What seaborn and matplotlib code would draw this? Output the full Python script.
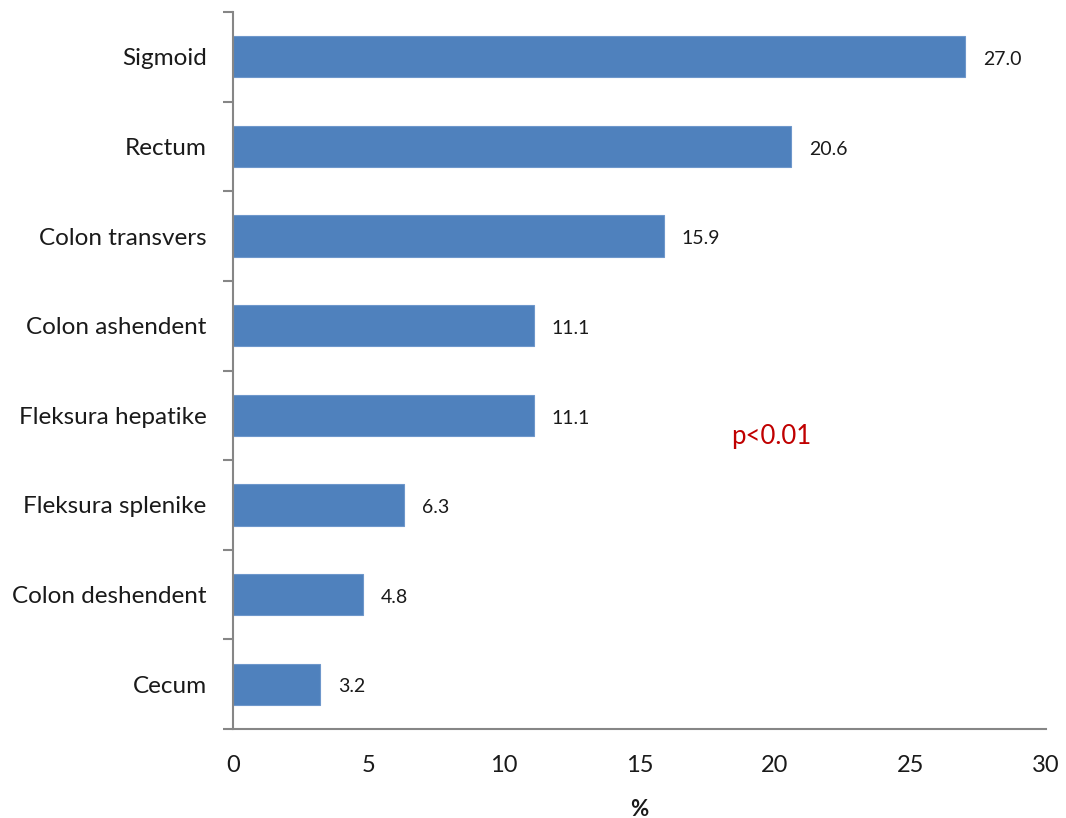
import matplotlib
matplotlib.use("Agg")
import matplotlib.pyplot as plt
from matplotlib.ticker import FixedLocator
import seaborn as sns
import pandas as pd

sites = ["Sigmoid", "Rectum", "Colon transvers", "Colon ashendent",
         "Fleksura hepatike", "Fleksura splenike", "Colon deshendent", "Cecum"]
percent = [27.0, 20.6, 15.9, 11.1, 11.1, 6.3, 4.8, 3.2]
x_ticks = [0, 5, 10, 15, 20, 25, 30]
p_note = "p<0.01"

sns.set_theme(style="white")
plt.rcParams["font.family"] = ["Lato", "DejaVu Sans"]

df = pd.DataFrame({"site": sites, "percent": percent})

fig = plt.figure(figsize=(10.66, 8.18), dpi=100)
ax = fig.add_axes([233 / 1066, 1 - 729 / 818, (1046 - 233) / 1066, (729 - 12) / 818])

sns.barplot(data=df, x="percent", y="site", orient="h", color="#4F81BD",
            saturation=1, width=0.46, edgecolor="#6E97CB", linewidth=0.8, ax=ax)

grey = "#868686"
ax.set_xlim(0, 30)
ax.set_ylim(len(sites) - 0.5, -0.5)
ax.xaxis.set_major_locator(FixedLocator(x_ticks))
ax.set_xticklabels([str(t) for t in x_ticks], fontsize=17, color="#1a1a1a")
ax.tick_params(axis="x", which="major", direction="in", length=6, width=1.5,
               color=grey, pad=19)
ax.yaxis.set_minor_locator(FixedLocator([i - 0.5 for i in range(len(sites) + 1)]))
ax.tick_params(axis="y", which="major", length=0, pad=19, labelsize=17.5, labelcolor="#1a1a1a")
ax.tick_params(axis="y", which="minor", direction="out", length=7, width=1.5, color=grey, left=True)
for lbl in ax.get_yticklabels():
    lbl.set_verticalalignment("center_baseline")

for side in ["top", "right"]:
    ax.spines[side].set_visible(False)
for side in ["left", "bottom"]:
    ax.spines[side].set_color(grey)
    ax.spines[side].set_linewidth(1.5)

for i, v in enumerate(percent):
    ax.annotate(f"{v:.1f}", xy=(v, i), xytext=(13, -2), textcoords="offset points",
                va="center", ha="left", fontsize=14, color="#1a1a1a")

ax.text(19.85, 4.24, p_note, color="#C00000", fontsize=18.5, ha="center", va="center")

ax.set_ylabel("")
ax.set_xlabel("%", fontsize=16, fontweight="bold", labelpad=16, color="#1a1a1a")

fig.savefig("out.png", dpi=100)
